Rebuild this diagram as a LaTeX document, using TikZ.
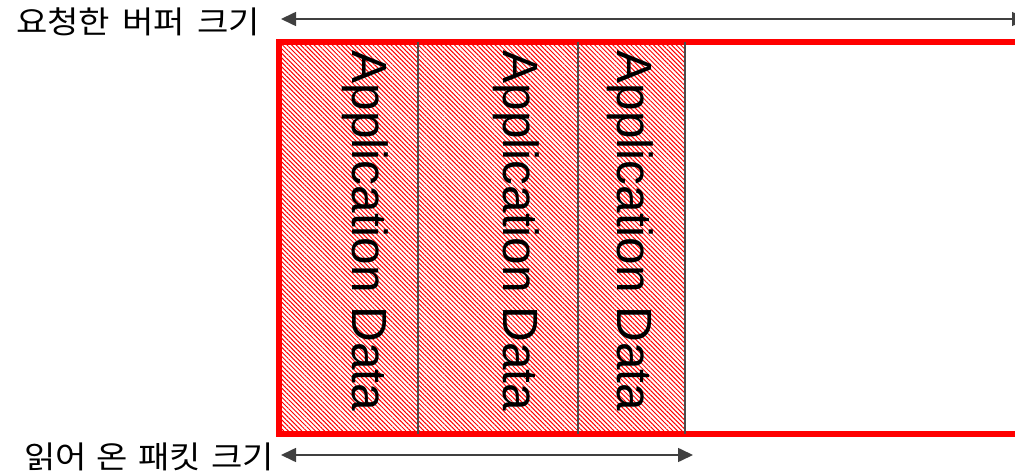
\documentclass[tikz,border=0pt]{standalone}
\usepackage{fontspec}
\setmainfont{Liberation Sans}
\newfontfamily\krfont[FakeStretch=1.1]{Noto Sans CJK KR}
\usetikzlibrary{arrows.meta,patterns.meta}
\begin{document}
\begin{tikzpicture}[x=1pt,y=-1pt,
  frame/.style={draw=red,line width=5.5pt},
  cellhatch/.style={pattern={Lines[angle=-45,distance=3.2pt,line width=1pt]},pattern color=red},
  divider/.style={draw=black!70,line width=1.3pt},
  dimline/.style={draw=black!75,line width=1.6pt,{Triangle[length=15pt,width=14pt]}-{Triangle[length=15pt,width=14pt]}},
  celltext/.style={rotate=-90,font=\fontsize{49.5}{52}\selectfont,inner sep=0pt},
  lbl/.style={font=\krfont\fontsize{31}{34}\selectfont,inner sep=0pt,anchor=east}]
\useasboundingbox (0,0) rectangle (1015,473);
% hatched payload area
\fill[cellhatch] (279,42) rectangle (685,434);
% frame of the requested buffer (open on the right)
\draw[frame] (1030,42) -- (279,42) -- (279,434) -- (1030,434);
% dividers between the packets
\draw[divider] (418,42) -- (418,434);
\draw[divider] (578,42) -- (578,434);
\draw[divider] (685,42) -- (685,434);
% packet labels
\node[celltext] (d1) at (365,231) {Application Data};
\node[celltext] (d2) at (516,231) {Application Data};
\node[celltext] (d3) at (630,231) {Application Data};
% dimension labels and arrows
\node[lbl] (req) at (260,22) {요청한\hspace{12pt}버퍼\hspace{12pt}크기};
\node[lbl] (got) at (274,457) {읽어\hspace{10pt}온\hspace{10pt}패킷\hspace{10pt}크기};
\coordinate (reqA) at (281,19);
\coordinate (reqB) at (1027,19);
\coordinate (gotA) at (281,455);
\coordinate (gotB) at (693,455);
\draw[dimline] (reqA) -- (reqB);
\draw[dimline] (gotA) -- (gotB);
\end{tikzpicture}
\end{document}
